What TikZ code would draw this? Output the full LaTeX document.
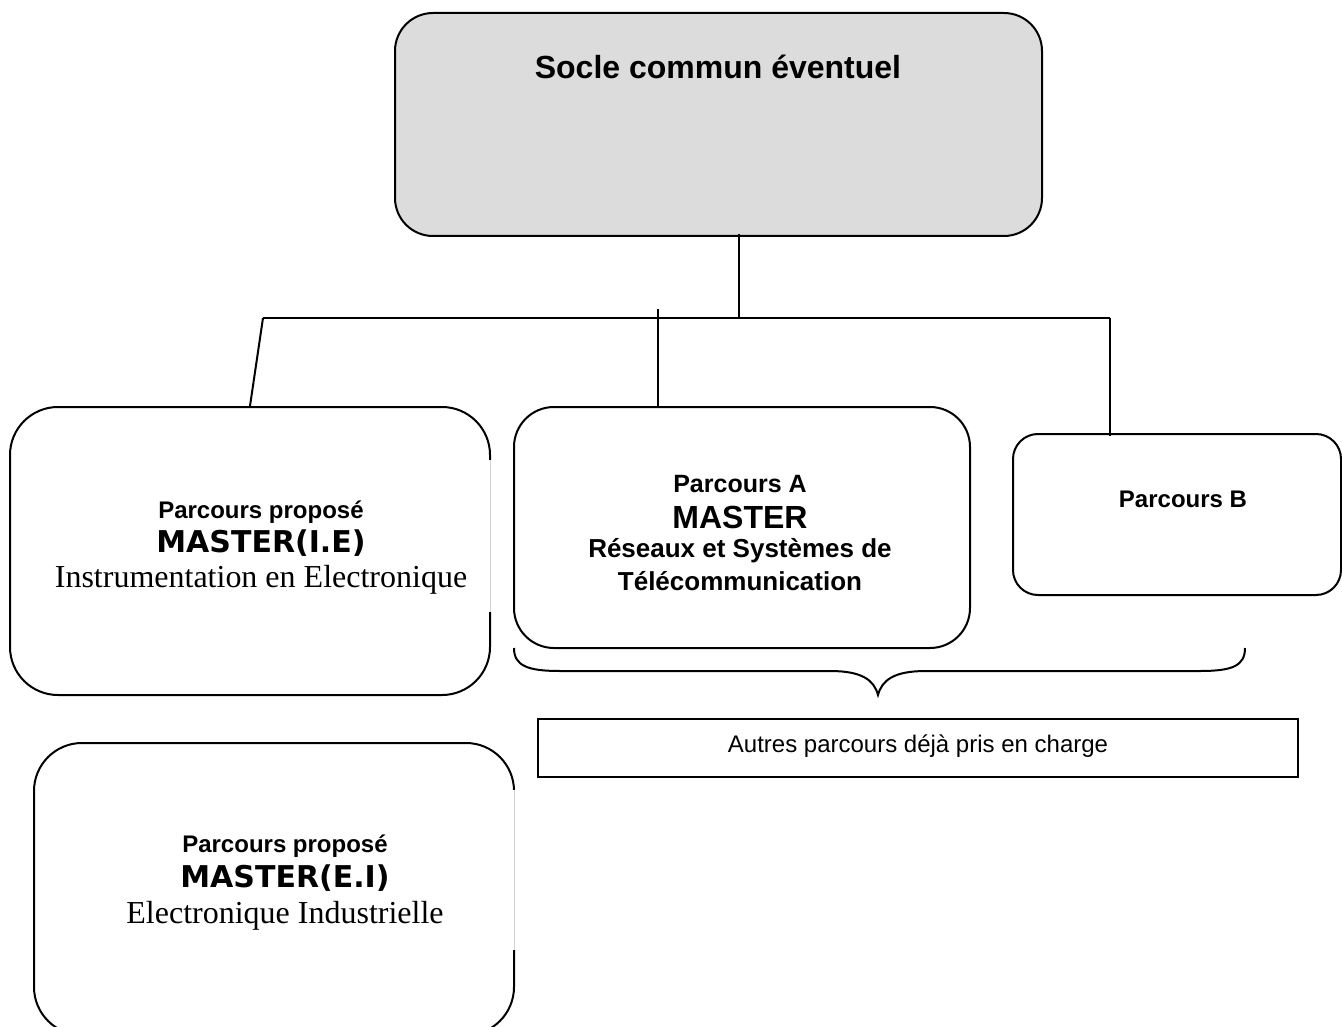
\documentclass[tikz,border=0pt]{standalone}
\usepackage{fontspec}
\setmainfont{Liberation Serif}
\newfontfamily\arialf{Liberation Sans}
\newfontfamily\verdf{DejaVu Sans}
\definecolor{socle}{HTML}{DCDCDC}
\begin{document}
\begin{tikzpicture}[x=1pt,y=-1pt,
  rbox/.style={draw, line width=2pt, rounded corners=#1, inner sep=0pt, rectangle},
  conn/.style={line width=2pt},
  lab/.style={anchor=base, inner sep=0pt, align=center}]
\useasboundingbox (0,0) rectangle (1342,1027);
% boxes
\node[rbox=38pt, fill=socle, minimum width=647pt, minimum height=223pt] (top) at (718.5,124.5) {};
\node[rbox=48pt, minimum width=480pt, minimum height=288pt] (ie) at (250,551) {};
\node[rbox=40pt, minimum width=456pt, minimum height=241pt] (ra) at (742,527.5) {};
\node[rbox=25pt, minimum width=328pt, minimum height=161pt] (pb) at (1177,514.5) {};
\node[rbox=48pt, minimum width=480pt, minimum height=292pt] (ei) at (274,889) {};
\node[draw, line width=1.8pt, minimum width=760pt, minimum height=58pt, inner sep=0pt] (autres) at (918,748) {};
% faint parts of right edges
\draw[white, line width=3.2pt] (490,460) -- (490,612);
\draw[gray!35, line width=0.8pt] (490,460) -- (490,612);
\draw[white, line width=3.2pt] (514,790) -- (514,950);
\draw[gray!35, line width=0.8pt] (514,790) -- (514,950);
% connectors
\coordinate (j) at (739,318);
\coordinate (jl) at (263,318);
\coordinate (jr) at (1110,318);
\coordinate (jm) at (658,309);
\draw[conn] ([yshift=3pt]j |- top.south) -- (j);
\draw[conn] (jl) -- (jr);
\draw[conn] (jl) -- (ie.north);
\draw[conn] (jm) -- (jm |- ra.north);
\draw[conn] (jr) -- ([yshift=-3pt]jr |- pb.north);
% brace
\coordinate (bl) at (514,648);
\coordinate (br) at (1245,648);
\coordinate (bt) at (878,695);
\draw[line width=2pt] (bl) .. controls (514,666) and (528,671) .. (560,671) -- (830,671)
  .. controls (862,671) and (874,680) .. (bt)
  .. controls (882,680) and (894,671) .. (926,671) -- (1200,671)
  .. controls (1232,671) and (1245,666) .. (br);
% texts
\node[lab] (t0) at (718,79) {\arialf\bfseries\fontsize{32}{36}\selectfont Socle commun éventuel};
\node[lab] (ie1) at (261,518) {\arialf\bfseries\fontsize{24}{28}\selectfont Parcours proposé};
\node[lab] (ie2) at (261,552) {\verdf\bfseries\fontsize{30}{34}\selectfont MASTER(I.E)};
\node[lab] (ie3) at (261,587) {\fontsize{32}{36}\selectfont Instrumentation en Electronique};
\node[lab] (ra1) at (740,492) {\arialf\bfseries\fontsize{25}{28}\selectfont Parcours A};
\node[lab] (ra2) at (740,528) {\arialf\bfseries\fontsize{32}{36}\selectfont MASTER};
\node[lab] (ra3) at (740,557) {\arialf\bfseries\fontsize{26}{30}\selectfont Réseaux et Systèmes de};
\node[lab] (ra4) at (740,590) {\arialf\bfseries\fontsize{26}{30}\selectfont Télécommunication};
\node[lab] (pb1) at (1183,507) {\arialf\bfseries\fontsize{24}{28}\selectfont Parcours B};
\node[lab] (au1) at (918,752) {\arialf\fontsize{24}{28}\selectfont Autres parcours déjà pris en charge};
\node[lab] (ei1) at (285,852) {\arialf\bfseries\fontsize{24}{28}\selectfont Parcours proposé};
\node[lab] (ei2) at (285,887) {\verdf\bfseries\fontsize{30}{34}\selectfont MASTER(E.I)};
\node[lab] (ei3) at (285,923) {\fontsize{32}{36}\selectfont Electronique Industrielle};
\end{tikzpicture}
\end{document}
